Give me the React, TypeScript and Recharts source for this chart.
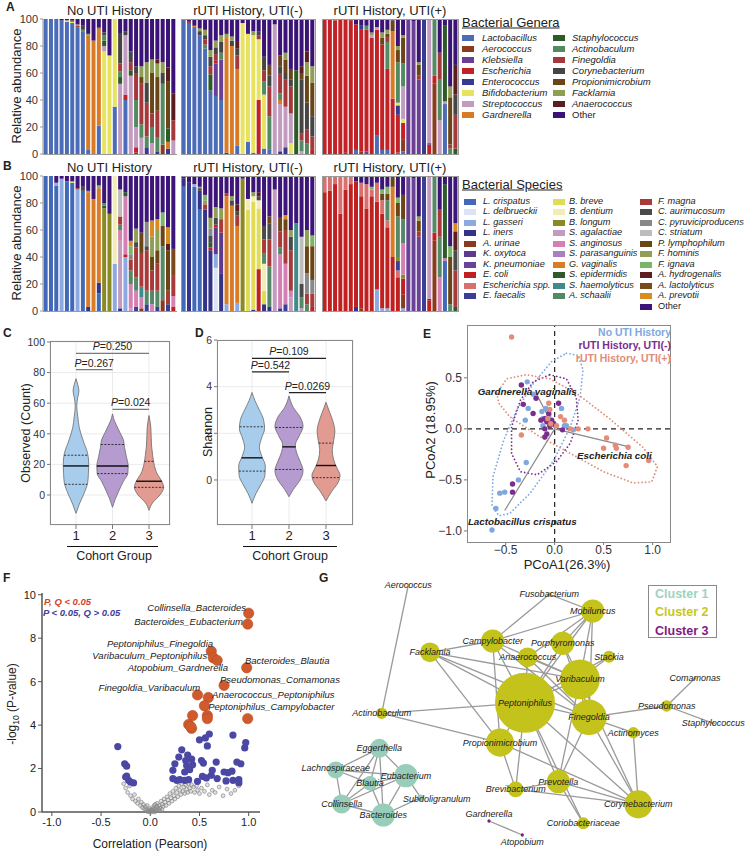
import React from "react";
import { Area, Bar, BarChart, CartesianGrid, ComposedChart, ReferenceLine, Scatter, XAxis, YAxis, ZAxis } from "recharts";

const FONT = '"Liberation Sans", Arial, Helvetica, sans-serif';

// ---------- A: genus composition per sample (bottom -> top: [taxon index, %]) ----------
const genera = [
  "Lactobacillus", "Aerococcus", "Klebsiella", "Escherichia", "Enterococcus", "Bifidobacterium",
  "Streptococcus", "Gardnerella", "Staphylococcus", "Actinobaculum", "Finegoldia", "Corynebacterium",
  "Propionimicrobium", "Facklamia", "Anaerococcus", "Other",
];
const generaColors = [
  "#4B6CB7", "#8C3B1C", "#6C3F97", "#C22126", "#383A8F", "#E8E35F", "#C29BC0", "#D97A27",
  "#2D5A27", "#548A62", "#A3393A", "#454545", "#6A4517", "#8E9F52", "#5A1E1E", "#3B1275",
];

const generaNoUti = [
  [[0, 100]], [[0, 100]], [[0, 100]], [[0, 99], [15, 1]], [[0, 98], [5, 1], [15, 1]],
  [[0, 97], [5, 1], [12, 1], [15, 1]], [[0, 94], [10, 1], [13, 1], [15, 4]], [[0, 91], [9, 1], [11, 3], [15, 5]],
  [[0, 3], [7, 85], [13, 1], [15, 11]], [[7, 84], [15, 16]], [[0, 21], [7, 72], [12, 1], [15, 6]],
  [[5, 76], [6, 4], [8, 4], [9, 4], [11, 2], [15, 10]], [[5, 73], [15, 27]], [[0, 35], [5, 65]],
  [[6, 52], [8, 5], [9, 4], [10, 6], [11, 22], [15, 11]], [[0, 40], [3, 4], [6, 44], [11, 3], [15, 9]],
  [[6, 58], [8, 4], [10, 6], [11, 8], [15, 24]], [[1, 1], [3, 4], [6, 15], [9, 20], [10, 20], [11, 5], [15, 35]],
  [[6, 12], [9, 10], [10, 30], [12, 5], [13, 8], [15, 35]], [[4, 5], [9, 8], [10, 25], [11, 15], [13, 15], [15, 32]],
  [[6, 8], [9, 12], [10, 10], [12, 30], [13, 10], [15, 30]], [[4, 2], [9, 10], [10, 20], [12, 25], [13, 10], [14, 3], [15, 30]],
  [[1, 7], [9, 45], [11, 8], [13, 8], [15, 32]], [[4, 4], [7, 5], [8, 10], [12, 35], [14, 10], [15, 36]],
  [[6, 10], [10, 15], [14, 20], [15, 55]],
];
const generaUtiNeg = [
  [[0, 99], [15, 1]], [[0, 97], [10, 1], [15, 2]], [[0, 94], [7, 1], [15, 5]], [[0, 88], [11, 3], [13, 2], [15, 7]],
  [[0, 78], [9, 3], [10, 4], [11, 3], [13, 4], [15, 8]], [[0, 47], [8, 12], [10, 6], [11, 7], [13, 5], [15, 23]],
  [[0, 43], [2, 24], [3, 2], [10, 5], [11, 5], [13, 5], [15, 16]], [[0, 40], [2, 30], [9, 5], [11, 8], [13, 5], [15, 12]],
  [[4, 1], [7, 85], [13, 3], [15, 11]], [[7, 80], [11, 4], [13, 3], [15, 13]], [[0, 6], [7, 57], [10, 10], [11, 5], [14, 5], [15, 17]],
  [[5, 97], [15, 3]], [[0, 9], [5, 80], [15, 11]], [[0, 1], [5, 87], [13, 3], [15, 9]],
  [[3, 40], [5, 45], [10, 3], [11, 3], [15, 9]], [[0, 4], [5, 40], [9, 10], [10, 8], [11, 10], [15, 28]],
  [[0, 3], [9, 25], [10, 22], [11, 8], [12, 8], [15, 34]], [[6, 96], [15, 4]],
  [[4, 2], [6, 35], [7, 3], [9, 5], [10, 15], [11, 5], [12, 8], [15, 27]], [[4, 5], [6, 30], [10, 20], [11, 5], [12, 10], [13, 5], [15, 25]],
  [[5, 8], [6, 22], [10, 20], [11, 5], [12, 8], [15, 37]], [[8, 62], [15, 38]],
  [[6, 2], [9, 8], [10, 5], [11, 40], [12, 5], [14, 5], [15, 35]], [[9, 8], [10, 10], [11, 20], [12, 20], [13, 10], [14, 8], [15, 24]],
  [[3, 3], [10, 10], [11, 15], [12, 25], [13, 12], [15, 35]],
];
const generaUtiPos = [
  [[3, 100]], [[3, 100]], [[3, 99], [13, 1]], [[3, 100]], [[1, 1], [3, 99]], [[3, 99], [12, 1]],
  [[0, 3], [3, 93], [15, 4]], [[1, 2], [3, 90], [4, 3], [15, 5]], [[2, 2], [3, 90], [9, 3], [15, 5]],
  [[3, 86], [6, 2], [13, 2], [15, 10]], [[0, 14], [3, 78], [6, 2], [15, 6]], [[0, 3], [3, 78], [12, 5], [13, 4], [15, 10]],
  [[0, 3], [3, 60], [9, 20], [10, 3], [12, 3], [13, 3], [15, 8]], [[3, 41], [7, 50], [12, 8], [15, 1]],
  [[0, 1], [3, 28], [4, 7], [5, 2], [9, 30], [12, 9], [13, 3], [15, 20]],
  [[0, 2], [1, 9], [3, 12], [5, 3], [6, 24], [9, 17], [12, 19], [13, 2], [15, 12]],
  [[2, 100]], [[2, 98], [15, 2]], [[2, 55], [10, 3], [12, 8], [13, 2], [15, 32]], [[4, 100]],
  [[3, 7], [4, 1], [6, 92]], [[1, 52], [3, 6], [9, 42]], [[6, 25], [9, 30], [10, 20], [15, 25]],
  [[0, 37], [6, 2], [8, 56], [15, 5]], [[9, 4], [10, 3], [12, 35], [13, 8], [15, 50]],
  [[8, 4], [10, 25], [11, 15], [14, 22], [15, 34]],
];

// ---------- B: species composition ----------
const species = [
  "L. crispatus", "L. delbrueckii", "L. gasseri", "L. iners", "A. urinae", "K. oxytoca", "K. pneumoniae",
  "E. coli", "Escherichia spp.", "E. faecalis", "B. breve", "B. dentium", "B. longum", "S. agalactiae",
  "S. anginosus", "S. parasanguinis", "G. vaginalis", "S. epidermidis", "S. haemolyticus", "A. schaalii",
  "F. magna", "C. aurimucosum", "C. pyruviciproducens", "C. striatum", "P. lymphophilum", "F. hominis",
  "F. ignava", "A. hydrogenalis", "A. lactolyticus", "A. prevotii", "Other",
];
const speciesColors = [
  "#4169B8", "#DCE4F4", "#8CAAE0", "#33338A", "#8B3A1E", "#5E3A8E", "#6A4398", "#C0201F", "#D97070",
  "#3A3E96", "#E0DC55", "#F2EDB5", "#8A8A25", "#C39BBE", "#D580B5", "#A980BE", "#D97B27", "#2F5A2A",
  "#3F8A8A", "#558866", "#A83A3A", "#4A4A4A", "#888888", "#BDBDBD", "#6B4515", "#8FA055", "#7AB56A",
  "#5C1F1F", "#7A4A1A", "#D98A20", "#3D1478",
];

const speciesNoUti = [
  [[0, 100]], [[0, 100]], [[0, 93], [2, 2], [30, 5]], [[2, 98], [30, 2]], [[0, 96], [30, 4]],
  [[0, 95], [10, 1], [30, 4]], [[2, 90], [20, 1], [30, 9]], [[0, 89], [21, 3], [30, 8]],
  [[3, 3], [16, 85], [25, 1], [30, 11]], [[16, 83], [30, 17]], [[0, 13], [3, 8], [16, 70], [26, 2], [30, 7]],
  [[12, 76], [17, 2], [19, 2], [30, 20]], [[12, 72], [30, 28]], [[2, 35], [11, 65]],
  [[3, 2], [13, 50], [14, 8], [19, 4], [20, 6], [23, 20], [30, 10]], [[2, 40], [7, 2], [14, 43], [17, 3], [30, 12]],
  [[13, 2], [14, 18], [19, 10], [20, 8], [22, 4], [26, 6], [29, 4], [30, 48]],
  [[9, 3], [14, 12], [19, 10], [20, 22], [21, 4], [25, 10], [30, 39]],
  [[4, 2], [14, 8], [18, 8], [20, 25], [24, 15], [30, 42]], [[9, 5], [19, 10], [20, 30], [21, 3], [22, 18], [30, 34]],
  [[14, 5], [19, 10], [20, 15], [24, 10], [25, 15], [29, 12], [30, 33]],
  [[9, 3], [19, 12], [20, 20], [24, 10], [25, 15], [29, 8], [30, 32]],
  [[4, 8], [19, 40], [24, 15], [26, 10], [30, 27]], [[9, 5], [20, 10], [24, 30], [27, 5], [29, 12], [30, 38]],
  [[7, 3], [14, 8], [20, 15], [28, 20], [30, 54]],
];
const speciesUtiNeg = [
  [[0, 92], [3, 6], [30, 2]], [[3, 95], [30, 5]], [[0, 92], [2, 2], [30, 6]], [[0, 75], [3, 14], [21, 2], [29, 1], [30, 8]],
  [[3, 75], [20, 4], [25, 3], [26, 4], [30, 14]], [[3, 45], [7, 2], [17, 4], [21, 5], [22, 5], [25, 8], [30, 31]],
  [[1, 32], [2, 10], [5, 20], [7, 2], [21, 5], [25, 8], [30, 23]], [[3, 28], [5, 30], [20, 10], [25, 8], [30, 24]],
  [[2, 5], [16, 80], [20, 2], [30, 13]], [[16, 78], [21, 4], [25, 3], [30, 15]],
  [[2, 6], [16, 57], [20, 8], [21, 3], [27, 5], [30, 21]], [[12, 98], [30, 2]], [[10, 75], [11, 8], [30, 17]],
  [[3, 1], [10, 80], [11, 4], [25, 3], [30, 12]], [[7, 31], [10, 45], [11, 6], [21, 3], [27, 3], [30, 12]],
  [[3, 5], [10, 10], [11, 20], [19, 8], [20, 10], [21, 10], [30, 37]], [[3, 3], [19, 30], [20, 20], [21, 12], [24, 5], [30, 30]],
  [[13, 90], [30, 10]], [[9, 2], [14, 40], [19, 5], [20, 12], [24, 10], [30, 31]],
  [[9, 5], [14, 30], [20, 25], [24, 8], [29, 3], [30, 29]], [[13, 10], [14, 5], [20, 30], [21, 10], [25, 5], [30, 40]],
  [[18, 65], [30, 35]], [[13, 2], [19, 8], [21, 10], [23, 35], [30, 45]],
  [[19, 5], [20, 8], [22, 15], [24, 20], [25, 12], [30, 40]], [[7, 3], [20, 10], [22, 10], [24, 25], [26, 8], [30, 44]],
];
const speciesUtiPos = [
  [[7, 88], [8, 12]], [[7, 89], [8, 11]], [[7, 94], [8, 6]], [[7, 72], [8, 28]], [[7, 90], [8, 10]], [[7, 94], [8, 6]],
  [[3, 3], [7, 93], [30, 4]], [[4, 2], [7, 83], [8, 10], [30, 5]], [[7, 76], [8, 18], [30, 6]],
  [[7, 85], [8, 5], [26, 2], [30, 8]], [[2, 16], [7, 65], [8, 14], [30, 5]], [[2, 2], [7, 70], [8, 10], [24, 5], [26, 3], [30, 10]],
  [[2, 2], [7, 60], [8, 5], [19, 15], [24, 5], [26, 5], [30, 8]], [[7, 40], [16, 52], [24, 8]],
  [[7, 25], [8, 5], [9, 7], [12, 3], [19, 30], [24, 10], [26, 4], [30, 16]],
  [[2, 2], [4, 10], [7, 12], [12, 3], [14, 23], [19, 18], [24, 18], [30, 14]],
  [[6, 100]], [[6, 98], [30, 2]], [[6, 55], [20, 4], [24, 8], [25, 3], [30, 30]], [[9, 100]],
  [[7, 8], [9, 1], [13, 91]], [[4, 52], [7, 6], [19, 42]], [[14, 25], [19, 30], [20, 20], [30, 25]],
  [[0, 37], [14, 2], [17, 55], [30, 6]], [[19, 5], [24, 35], [26, 8], [30, 52]],
  [[17, 3], [20, 27], [21, 15], [27, 14], [29, 6], [30, 35]],
];

const groupTitles = ["No UTI History", "rUTI History, UTI(-)", "rUTI History, UTI(+)"];
const abundanceTicks = [0, 20, 40, 60, 80, 100];

// ---------- C / D: violin outlines ([value, half width]) and quartiles ----------
const observedNoUti = [[-12, 0], [-6, 0.09], [1, 0.22], [8, 0.32], [14, 0.34], [20, 0.35], [27, 0.32], [36, 0.19], [44, 0.09], [51, 0.05], [58, 0.02], [64, 0.05], [68, 0.08], [72, 0.05], [76, 0]];
const observedUtiNeg = [[-8, 0], [-3, 0.07], [3, 0.18], [9, 0.3], [14, 0.42], [19, 0.43], [25, 0.38], [31, 0.33], [36, 0.3], [41, 0.2], [46, 0.1], [50, 0.03], [53, 0]];
const observedUtiPos = [[-10, 0], [-5, 0.1], [0, 0.3], [5, 0.4], [9, 0.35], [14, 0.22], [20, 0.14], [26, 0.1], [32, 0.07], [38, 0.06], [44, 0.05], [48, 0.03], [52, 0]];
const observedMedian = [19, 19, 9];
const observedQ1 = [7, 14, 5];
const observedQ3 = [26, 33, 22];
const observedTests = [
  { from: 1, to: 3, y: 92.6, p: "0.250" },
  { from: 1, to: 2, y: 82, p: "0.267" },
  { from: 2, to: 3, y: 56, p: "0.024" },
];

const shannonNoUti = [[-1, 0], [-0.6, 0.1], [-0.2, 0.24], [0.2, 0.35], [0.6, 0.36], [1.0, 0.27], [1.4, 0.2], [1.8, 0.26], [2.2, 0.34], [2.6, 0.31], [3.0, 0.2], [3.4, 0.08], [3.75, 0]];
const shannonUtiNeg = [[-0.72, 0], [-0.4, 0.12], [0, 0.3], [0.4, 0.38], [0.8, 0.3], [1.2, 0.2], [1.5, 0.17], [1.9, 0.28], [2.3, 0.38], [2.7, 0.3], [3.1, 0.12], [3.6, 0]];
const shannonUtiPos = [[-0.9, 0], [-0.5, 0.15], [-0.1, 0.33], [0.2, 0.38], [0.5, 0.3], [0.9, 0.2], [1.3, 0.17], [1.7, 0.21], [2.1, 0.24], [2.5, 0.19], [2.9, 0.1], [3.33, 0]];
const shannonMedian = [0.95, 1.42, 0.62];
const shannonQ1 = [0.38, 0.45, 0.1];
const shannonQ3 = [2.28, 2.25, 1.58];
const shannonTests = [
  { from: 1, to: 3, y: 5.21, p: "0.109" },
  { from: 1, to: 2, y: 4.63, p: "0.542" },
  { from: 2, to: 3, y: 3.74, p: "0.0269" },
];
const violinFills = ["#A8CDEC", "#B59BD0", "#E29B90"];

// ---------- E: PCoA ----------
const pcoaNoUti = [[-0.28, 0.46], [-0.22, 0.34], [-0.27, 0.2], [-0.3, 0.085], [-0.13, 0.17], [-0.09, 0.2], [-0.06, 0.13], [-0.05, 0.085], [-0.02, 0.05], [0.07, 0.2], [0.1, 0.03], [0.19, -0.01], [-0.29, -0.33], [-0.37, -0.5], [-0.51, -0.62], [-0.56, -0.63], [-0.6, -0.78], [-0.64, -0.99], [-0.12, 0.03], [-0.07, 0.08], [-0.12, 0.1], [0.12, 0.03]];
const pcoaUtiNeg = [[-0.34, 0.43], [-0.19, 0.3], [-0.22, 0.15], [-0.32, 0.24], [-0.1, 0.1], [-0.14, 0.085], [-0.08, 0.07], [-0.01, 0.05], [-0.1, 0], [-0.1, -0.08], [-0.08, -0.05], [0.04, 0.25], [0.08, -0.01], [-0.05, 0.03], [-0.43, -0.54], [-0.43, -0.62], [-0.03, 0.085], [-0.06, 0.15]];
const pcoaUtiPos = [[-0.44, 0.9], [-0.34, -0.06], [-0.06, 0.25], [-0.05, 0.19], [0.06, 0.12], [0.1, 0.085], [0.16, 0], [0.24, 0], [0.34, 0], [0.53, -0.09], [0.62, -0.16], [0.5, -0.19], [0.63, -0.19], [0.75, -0.18], [0.73, -0.36], [0.96, -0.31], [-0.04, 0.05], [-0.07, 0.1], [0.02, 0.03]];
const ellipseNoUti = [[0.12, 0.74], [0.24, 0.72], [0.29, 0.58], [0.26, 0.31], [0.16, 0.02], [-0.01, -0.31], [-0.25, -0.63], [-0.46, -0.83], [-0.57, -0.85], [-0.64, -0.75], [-0.63, -0.47], [-0.52, -0.11], [-0.39, 0.18], [-0.22, 0.44], [-0.03, 0.66]];
const ellipseUtiNeg = [[-0.05, 0.53], [0.12, 0.49], [0.22, 0.31], [0.24, 0.085], [0.16, -0.14], [0.02, -0.32], [-0.18, -0.45], [-0.35, -0.42], [-0.44, -0.24], [-0.44, 0.02], [-0.35, 0.28], [-0.22, 0.46]];
const ellipseUtiPos = [[-0.59, 0.35], [-0.49, 0.49], [-0.29, 0.53], [-0.05, 0.49], [0.22, 0.35], [0.56, 0.1], [0.9, -0.18], [1.05, -0.37], [0.99, -0.52], [0.8, -0.53], [0.5, -0.42], [0.16, -0.24], [-0.18, -0.06], [-0.46, 0.12], [-0.57, 0.25]];
const pcoaLoadings = [
  { name: "Gardnerella vaginalis", x: -0.18, y: 0.33, lx: -0.28, ly: 0.365 },
  { name: "Escherichia coli", x: 0.73, y: -0.17, lx: 0.61, ly: -0.265 },
  { name: "Lactobacillus crispatus", x: -0.51, y: -0.8, lx: -0.33, ly: -0.91 },
];
const pcoaColors = ["#7FA8E0", "#7B2D8E", "#E38C78"];

// ---------- F: correlation volcano ----------
const volcanoSig = [[1.0, 9.15], [0.99, 8.65], [0.62, 7.4], [0.64, 7.1], [0.68, 6.98], [0.98, 6.64], [0.75, 5.83], [0.48, 5.39], [0.59, 5.27], [0.55, 4.89], [0.43, 4.44], [0.58, 4.44], [0.58, 4.3], [0.99, 4.3], [0.39, 4.03], [0.42, 3.85], [0.41, 3.94]];
const volcanoNominal = [[-0.33, 3.01], [-0.26, 2.22], [-0.24, 2.11], [-0.25, 1.61], [-0.24, 1.65], [-0.22, 1.46], [-0.2, 1.38], [-0.17, 1.34], [0.23, 1.92], [0.25, 2.22], [0.29, 2.53], [0.32, 2.86], [0.38, 2.62], [0.36, 2.37], [0.37, 2.14], [0.4, 1.95], [0.42, 2.43], [0.43, 2.17], [0.35, 1.84], [0.27, 1.46], [0.23, 1.54], [0.3, 1.49], [0.35, 1.46], [0.39, 1.49], [0.5, 3.32], [0.56, 3.41], [0.6, 3.59], [0.58, 3.04], [0.52, 2.37], [0.54, 2.25], [0.67, 2.3], [0.63, 1.92], [0.53, 1.64], [0.57, 1.57], [0.62, 1.69], [0.48, 1.41], [0.68, 1.54], [0.75, 1.84], [0.79, 1.81], [0.83, 1.88], [0.84, 3.54], [0.77, 1.43], [0.84, 1.46], [0.9, 1.49], [0.9, 1.34], [0.88, 2.3], [0.92, 2.22], [0.97, 3.2], [0.96, 2.95]];
const volcanoNs = [[-0.27, 1.3], [-0.25, 1.1], [-0.23, 0.9], [-0.21, 1.2], [-0.2, 0.75], [-0.18, 0.6], [-0.16, 0.8], [-0.15, 0.5], [-0.13, 0.4], [-0.12, 0.6], [-0.1, 0.3], [-0.09, 0.45], [-0.08, 0.2], [-0.07, 0.35], [-0.06, 0.15], [-0.05, 0.25], [-0.04, 0.1], [-0.03, 0.3], [-0.02, 0.05], [-0.01, 0.15], [0, 0.02], [0.01, 0.1], [0.02, 0.2], [0.03, 0.05], [0.04, 0.3], [0.05, 0.12], [0.06, 0.22], [0.07, 0.4], [0.08, 0.08], [0.09, 0.3], [0.1, 0.18], [0.11, 0.5], [0.12, 0.35], [0.13, 0.25], [0.14, 0.6], [0.15, 0.45], [0.16, 0.3], [0.17, 0.7], [0.18, 0.55], [0.19, 0.4], [0.2, 0.85], [0.21, 0.65], [0.22, 0.5], [0.23, 0.95], [0.24, 0.75], [0.25, 0.6], [0.26, 1.1], [0.27, 0.9], [0.28, 0.7], [0.29, 1.2], [0.3, 1.0], [0.31, 0.8], [0.32, 1.3], [0.33, 0.95], [0.34, 1.15], [0.35, 0.85], [0.36, 1.25], [0.37, 1.05], [0.38, 0.9], [0.39, 1.3], [0.4, 1.1], [0.41, 0.95], [0.42, 1.25], [0.44, 1.15], [0.45, 0.9], [0.47, 1.2], [0.48, 1.0], [0.5, 0.85], [0.52, 1.1], [0.55, 0.95], [0.58, 1.25], [0.6, 0.8], [0.63, 1.0], [0.66, 0.9], [0.7, 1.15], [0.74, 0.75], [0.78, 1.05], [0.82, 0.85], [0.86, 1.0], [0.9, 1.2], [-0.005, 0], [0.015, 0], [0.03, 0.15], [0.045, 0], [0.06, 0.05], [-0.03, 0.02], [0.08, 0.15], [0.1, 0.05], [0.12, 0.12], [0.05, 0.35], [0.02, 0.08], [-0.015, 0.08], [0.07, 0.25]];
const volcanoLabels = [
  { t: "Collinsella_Bacteroides", x: 0.973, y: 9.41, a: "end" },
  { t: "Bacteroides_Eubacterium", x: 0.942, y: 8.77, a: "end" },
  { t: "Peptoniphilus_Finegoldia", x: 0.638, y: 7.76, a: "end" },
  { t: "Varibaculum_Peptoniphilus", x: 0.578, y: 7.21, a: "end" },
  { t: "Atopobium_Gardnerella", x: 0.79, y: 6.67, a: "end" },
  { t: "Bacteroides_Blautia", x: 0.962, y: 6.99, a: "start" },
  { t: "Pseudomonas_Comamonas", x: 0.709, y: 6.12, a: "start" },
  { t: "Finegoldia_Varibaculum", x: 0.507, y: 5.71, a: "end" },
  { t: "Anaerococcus_Peptoniphilus", x: 0.628, y: 5.39, a: "start" },
  { t: "Peptoniphilus_Campylobacter", x: 0.588, y: 4.84, a: "start" },
];

// ---------- G: co-occurrence network ----------
const networkNodes = [
  { name: "Aerococcus", x: 415, y: 105, w: 0.2, c: 2 },
  { name: "Fusobacterium", x: 838, y: 133, w: 0.5, c: 2 },
  { name: "Mobiluncus", x: 968, y: 183, w: 15, c: 2 },
  { name: "Campylobacter", x: 668, y: 273, w: 15, c: 2 },
  { name: "Porphyromonas", x: 878, y: 280, w: 15, c: 2 },
  { name: "Facklamia", x: 480, y: 307, w: 11, c: 2 },
  { name: "Anaerococcus", x: 773, y: 322, w: 11, c: 2 },
  { name: "Stackia", x: 1017, y: 320, w: 4, c: 2 },
  { name: "Varibaculum", x: 930, y: 388, w: 44, c: 2 },
  { name: "Peptoniphilus", x: 765, y: 458, w: 100, c: 2 },
  { name: "Finegoldia", x: 957, y: 502, w: 35, c: 2 },
  { name: "Comamonas", x: 1275, y: 385, w: 0.2, c: 2 },
  { name: "Pseudomonas", x: 1190, y: 468, w: 3.6, c: 2 },
  { name: "Staphylococcus", x: 1330, y: 520, w: 0.2, c: 2 },
  { name: "Actinobaculum", x: 335, y: 490, w: 3.6, c: 2 },
  { name: "Actinomyces", x: 1090, y: 548, w: 3.6, c: 2 },
  { name: "Propionimicrobium", x: 690, y: 578, w: 22, c: 2 },
  { name: "Prevotella", x: 865, y: 695, w: 15, c: 2 },
  { name: "Brevibacterium", x: 737, y: 718, w: 7, c: 2 },
  { name: "Corynebacterium", x: 1105, y: 763, w: 22, c: 2 },
  { name: "Coriobacteriaceae", x: 940, y: 820, w: 4, c: 2 },
  { name: "Eggerthella", x: 328, y: 595, w: 10, c: 1 },
  { name: "Lachnospiraceae", x: 197, y: 660, w: 8, c: 1 },
  { name: "Eubacterium", x: 408, y: 677, w: 15, c: 1 },
  { name: "Blautia", x: 300, y: 700, w: 6, c: 1 },
  { name: "Subdoligranulum", x: 452, y: 743, w: 1.2, c: 1 },
  { name: "Collinsella", x: 215, y: 762, w: 10, c: 1 },
  { name: "Bacteroides", x: 340, y: 795, w: 15, c: 1 },
  { name: "Gardnerella", x: 657, y: 813, w: 0.3, c: 3 },
  { name: "Atopobium", x: 757, y: 855, w: 0.3, c: 3 },
];
const networkEdges = [
  ["Aerococcus", "Actinobaculum"], ["Actinobaculum", "Peptoniphilus"], ["Actinobaculum", "Propionimicrobium"],
  ["Fusobacterium", "Campylobacter"], ["Fusobacterium", "Mobiluncus"], ["Mobiluncus", "Campylobacter"],
  ["Mobiluncus", "Varibaculum"], ["Mobiluncus", "Anaerococcus"], ["Mobiluncus", "Porphyromonas"],
  ["Mobiluncus", "Finegoldia"], ["Mobiluncus", "Peptoniphilus"], ["Campylobacter", "Facklamia"],
  ["Campylobacter", "Peptoniphilus"], ["Campylobacter", "Propionimicrobium"], ["Campylobacter", "Varibaculum"],
  ["Campylobacter", "Finegoldia"], ["Facklamia", "Varibaculum"], ["Facklamia", "Peptoniphilus"],
  ["Facklamia", "Finegoldia"], ["Facklamia", "Propionimicrobium"], ["Porphyromonas", "Peptoniphilus"],
  ["Porphyromonas", "Varibaculum"], ["Porphyromonas", "Finegoldia"], ["Anaerococcus", "Peptoniphilus"],
  ["Anaerococcus", "Varibaculum"], ["Anaerococcus", "Finegoldia"], ["Stackia", "Varibaculum"],
  ["Stackia", "Peptoniphilus"], ["Varibaculum", "Peptoniphilus"], ["Varibaculum", "Finegoldia"],
  ["Varibaculum", "Prevotella"], ["Varibaculum", "Corynebacterium"], ["Peptoniphilus", "Finegoldia"],
  ["Peptoniphilus", "Propionimicrobium"], ["Peptoniphilus", "Prevotella"], ["Peptoniphilus", "Brevibacterium"],
  ["Peptoniphilus", "Corynebacterium"], ["Peptoniphilus", "Coriobacteriaceae"], ["Finegoldia", "Pseudomonas"],
  ["Finegoldia", "Actinomyces"], ["Finegoldia", "Corynebacterium"], ["Finegoldia", "Prevotella"],
  ["Pseudomonas", "Comamonas"], ["Pseudomonas", "Staphylococcus"], ["Actinomyces", "Corynebacterium"],
  ["Propionimicrobium", "Brevibacterium"], ["Propionimicrobium", "Corynebacterium"], ["Prevotella", "Brevibacterium"],
  ["Prevotella", "Corynebacterium"], ["Prevotella", "Coriobacteriaceae"], ["Brevibacterium", "Corynebacterium"],
  ["Gardnerella", "Atopobium"],
  ["Eggerthella", "Lachnospiraceae"], ["Eggerthella", "Eubacterium"], ["Eggerthella", "Blautia"],
  ["Eggerthella", "Bacteroides"], ["Eggerthella", "Collinsella"], ["Lachnospiraceae", "Eubacterium"],
  ["Lachnospiraceae", "Collinsella"], ["Lachnospiraceae", "Blautia"], ["Eubacterium", "Blautia"],
  ["Eubacterium", "Collinsella"], ["Eubacterium", "Bacteroides"], ["Eubacterium", "Subdoligranulum"],
  ["Blautia", "Bacteroides"], ["Blautia", "Collinsella"], ["Collinsella", "Bacteroides"], ["Bacteroides", "Subdoligranulum"],
];
const clusterNames = ["Cluster 1", "Cluster 2", "Cluster 3"];
const clusterColors = ["#97CDB9", "#C4C31B", "#7E1E80"];
const clusterTextColors = ["#9ED3C1", "#C8C71E", "#821A84"];

// ---------- helpers ----------
function toRows(samples: number[][][], n: number) {
  return samples.map((segs, i) => {
    const row: Record<string, number> = { id: i };
    for (let k = 0; k < n; k++) row["t" + k] = 0;
    const total = segs.reduce((s, seg) => s + seg[1], 0);
    segs.forEach(([k, v]) => {
      row["t" + k] += (v * 100) / total;
    });
    return row;
  });
}

function widthAt(profile: number[][], y: number) {
  for (let i = 1; i < profile.length; i++) {
    const [y0, w0] = profile[i - 1];
    const [y1, w1] = profile[i];
    if (y >= y0 && y <= y1) return w0 + ((w1 - w0) * (y - y0)) / (y1 - y0);
  }
  return 0;
}

const pts = (arr: number[][]) => arr.map(([x, y]) => ({ x, y }));
const Blank = () => <g />;
const dot = (r: number, fill: string, stroke = "none", sw = 0) => (p: any) => (
  <circle cx={p.cx} cy={p.cy} r={r} fill={fill} stroke={stroke} strokeWidth={sw} />
);

function seg(key: string, data: { x: number; y: number }[], stroke: string, width = 1, dash?: string, cap?: string) {
  return (
    <Scatter
      key={key}
      data={data}
      line={{ stroke, strokeWidth: width, strokeDasharray: dash, strokeLinecap: cap as any }}
      shape={Blank}
      isAnimationActive={false}
    />
  );
}

function Txt({ x, y, size = 12, anchor = "middle", bold, italic, color = "#222", rotate, underline, children }: any) {
  const tx = anchor === "middle" ? "-50%" : anchor === "end" ? "-100%" : "0";
  return (
    <div
      style={{
        position: "absolute",
        left: x,
        top: y,
        transform: `translate(${tx}, -50%)${rotate ? " rotate(-90deg)" : ""}`,
        fontSize: size,
        lineHeight: 1,
        fontWeight: bold ? 700 : 400,
        fontStyle: italic ? "italic" : "normal",
        textDecoration: underline ? "underline" : "none",
        color,
        whiteSpace: "nowrap",
      }}
    >
      {children}
    </div>
  );
}

// ---------- A / B ----------
function StackGroup({ samples, colors, plotLeft, plotWidth, top, axis, title }: any) {
  const rows = toRows(samples, colors.length);
  const axisW = axis ? 43 : 0;
  return (
    <>
      <div style={{ position: "absolute", left: plotLeft - axisW, top }}>
        <BarChart
          width={plotWidth + axisW}
          height={166}
          data={rows}
          margin={{ top: 19, right: 0, bottom: 12, left: axis ? 13 : 0 }}
          barCategoryGap="12%"
        >
          <XAxis dataKey="id" hide />
          <YAxis
            hide={!axis}
            width={30}
            domain={[0, 100]}
            allowDataOverflow
            ticks={abundanceTicks}
            interval={0}
            tickSize={3}
            tick={{ fontSize: 11, fill: "#333" }}
            tickLine={{ stroke: "#999" }}
            axisLine={{ stroke: "#999" }}
          />
          {colors.map((c: string, k: number) => (
            <Bar key={k} dataKey={"t" + k} stackId="s" fill={c} isAnimationActive={false} />
          ))}
        </BarChart>
      </div>
      <div
        style={{
          position: "absolute",
          left: plotLeft - 0.5,
          top: top + 18.5,
          width: plotWidth + 1,
          height: 136,
          boxSizing: "border-box",
          borderTop: axis ? "none" : "1px solid #9a9a9a",
          borderRight: axis ? "none" : "1px solid #9a9a9a",
          borderLeft: axis ? "none" : "1px solid #9a9a9a",
          borderBottom: "1px solid #9a9a9a",
          pointerEvents: "none",
        }}
      />
      <Txt x={plotLeft + plotWidth / 2} y={top + 10} size={13}>
        {title}
      </Txt>
    </>
  );
}

const groupPlots = [
  { left: 43, width: 133 },
  { left: 181, width: 134 },
  { left: 322, width: 136 },
];

function StackRow({ top, groups, colors }: any) {
  return (
    <>
      {groups.map((g: any, i: number) => (
        <StackGroup
          key={i}
          samples={g}
          colors={colors}
          plotLeft={groupPlots[i].left}
          plotWidth={groupPlots[i].width}
          top={top}
          axis={i === 0}
          title={groupTitles[i]}
        />
      ))}
      <Txt x={16} y={top + 86} size={13} rotate>
        Relative abundance
      </Txt>
    </>
  );
}

function TaxaLegend({ title, names, colors, titleY, firstRow, rowH, columns, size }: any) {
  return (
    <>
      <Txt x={462} y={titleY} size={13} anchor="start" underline>
        {title}
      </Txt>
      {columns.map((col: any, ci: number) =>
        names.slice(col.from, col.to).map((n: string, r: number) => {
          const idx = col.from + r;
          const y = firstRow + r * rowH;
          return (
            <React.Fragment key={ci + "-" + r}>
              <div style={{ position: "absolute", left: col.sx, top: y - 3, width: 12, height: 6, background: colors[idx] }} />
              <Txt x={col.tx} y={y} size={size} anchor="start" italic={n !== "Other"}>
                {n}
              </Txt>
            </React.Fragment>
          );
        })
      )}
    </>
  );
}

// ---------- C / D ----------
function ViolinPanel({ left, top, width, margin, yWidth, xDomain, yDomain, yTicks, profiles, medians, q1, q3, tests, testColor, tickSize }: any) {
  const groups = [1, 2, 3];
  const plotX = margin.left + yWidth;
  const plotW = width - plotX - margin.right;
  const plotH = 220 - margin.top - margin.bottom - 21;
  const labelShape = (p: any) => (
    <text x={p.cx} y={p.cy} dy={-3} textAnchor="middle" fontSize={10.5} fill="#222">
      <tspan fontStyle="italic">P</tspan>={p.payload.p}
    </text>
  );
  return (
    <div style={{ position: "absolute", left, top }}>
      <ComposedChart layout="vertical" width={width} height={220} margin={margin}>
        <CartesianGrid stroke="#e6e6e6" strokeWidth={0.8} />
        <XAxis
          type="number"
          dataKey="x"
          domain={xDomain}
          ticks={[1, 2, 3]}
          interval={0}
          allowDataOverflow
          height={21}
          tickSize={4}
          tick={{ fontSize: 13, fill: "#222" }}
          tickLine={{ stroke: "#777" }}
          axisLine={false}
        />
        <YAxis
          type="number"
          dataKey="y"
          domain={yDomain}
          ticks={yTicks}
          interval={0}
          reversed
          allowDataOverflow
          width={yWidth}
          tickSize={3}
          tick={{ fontSize: tickSize, fill: "#333" }}
          tickLine={{ stroke: "#777" }}
          axisLine={false}
        />
        {profiles.map((p: number[][], i: number) => (
          <Area
            key={"v" + i}
            data={p.map(([y, hw]) => ({ y, band: [groups[i] - hw, groups[i] + hw] }))}
            dataKey="band"
            type="monotone"
            fill={violinFills[i]}
            fillOpacity={1}
            stroke="#6a6a6a"
            strokeWidth={0.8}
            isAnimationActive={false}
          />
        ))}
        {profiles.map((p: number[][], i: number) => {
          const g = groups[i];
          const line = (y: number) => {
            const hw = widthAt(p, y);
            return [{ x: g - hw, y }, { x: g + hw, y }];
          };
          return [
            seg("q1" + i, line(q1[i]), "#222", 0.9, "2 1.5"),
            seg("q3" + i, line(q3[i]), "#222", 0.9, "2 1.5"),
            seg("md" + i, line(medians[i]), "#111", 1.4),
          ];
        })}
        {tests.map((t: any, i: number) => seg("t" + i, [{ x: t.from, y: t.y }, { x: t.to, y: t.y }], testColor, 1.3))}
        <Scatter
          data={tests.map((t: any) => ({ x: (t.from + t.to) / 2, y: t.y, p: t.p }))}
          shape={labelShape}
          isAnimationActive={false}
        />
      </ComposedChart>
      <div
        style={{
          position: "absolute",
          left: plotX,
          top: margin.top,
          width: plotW,
          height: plotH,
          boxSizing: "border-box",
          border: "1px solid #8a8a8a",
          pointerEvents: "none",
        }}
      />
    </div>
  );
}

// ---------- E ----------
function PcoaPanel() {
  const minus = (v: number) => v.toFixed(1).replace("-", "\u2212");
  const series = [pcoaNoUti, pcoaUtiNeg, pcoaUtiPos];
  const ellipses = [ellipseNoUti, ellipseUtiNeg, ellipseUtiPos];
  const loadLabel = (p: any) => (
    <text x={p.cx} y={p.cy} textAnchor="middle" dominantBaseline="central" fontSize={9.8} fontWeight={700} fontStyle="italic" fill="#222">
      {p.payload.name}
    </text>
  );
  return (
    <div style={{ position: "absolute", left: 415, top: 320 }}>
      <ComposedChart width={262} height={250} margin={{ top: 5, right: 6, bottom: 2, left: 7 }}>
        <XAxis
          type="number"
          dataKey="x"
          domain={[-0.895, 1.188]}
          ticks={[-0.5, 0, 0.5, 1]}
          interval={0}
          height={25}
          tickSize={2}
          tickMargin={0}
          tickFormatter={minus}
          tick={{ fontSize: 12, fill: "#333" }}
          tickLine={{ stroke: "#777" }}
          axisLine={false}
        />
        <YAxis
          type="number"
          dataKey="y"
          domain={[-1.118, 1.017]}
          ticks={[-1, -0.5, 0, 0.5]}
          interval={0}
          width={45}
          tickSize={3}
          tickFormatter={minus}
          tick={{ fontSize: 12, fill: "#333" }}
          tickLine={{ stroke: "#777" }}
          axisLine={false}
        />
        <ReferenceLine x={0} stroke="#222" strokeDasharray="5 4" strokeWidth={1.2} />
        <ReferenceLine y={0} stroke="#222" strokeDasharray="5 4" strokeWidth={1.2} />
        {ellipses.map((e, i) => seg("el" + i, pts([...e, e[0]]), pcoaColors[i], 1.8, "0.01 3.6", "round"))}
        {pcoaLoadings.map((l, i) => seg("ld" + i, [{ x: 0, y: 0 }, { x: l.x, y: l.y }], "#8a8a8a", 1.2))}
        {series.map((s, i) => (
          <Scatter key={"pc" + i} data={pts(s)} shape={dot(2.7, pcoaColors[i])} isAnimationActive={false} />
        ))}
        <Scatter
          data={pcoaLoadings.map((l) => ({ x: l.lx, y: l.ly, name: l.name }))}
          shape={loadLabel}
          isAnimationActive={false}
        />
      </ComposedChart>
      <div
        style={{
          position: "absolute",
          left: 52,
          top: 5,
          width: 204,
          height: 218,
          boxSizing: "border-box",
          border: "1.5px solid #8a8a8a",
          pointerEvents: "none",
        }}
      />
    </div>
  );
}

// ---------- F ----------
function VolcanoPanel() {
  const labelShape = (p: any) => (
    <text x={p.cx} y={p.cy} textAnchor={p.payload.a} dominantBaseline="central" fontSize={9.5} fontStyle="italic" fill="#222">
      {p.payload.t}
    </text>
  );
  return (
    <div style={{ position: "absolute", left: 0, top: 585 }}>
      <ComposedChart width={350} height={265} margin={{ top: 8, right: 90, bottom: 18, left: 12 }}>
        <XAxis
          type="number"
          dataKey="x"
          domain={[-1.1, 1.115]}
          ticks={[-1, -0.5, 0, 0.5, 1]}
          interval={0}
          height={20}
          tickSize={4}
          tickFormatter={(v: number) => v.toFixed(1)}
          tick={{ fontSize: 11, fill: "#222" }}
          tickLine={{ stroke: "#555" }}
          axisLine={{ stroke: "#555", strokeWidth: 1.5 }}
        />
        <YAxis
          type="number"
          dataKey="y"
          domain={[0, 10.08]}
          ticks={[0, 2, 4, 6, 8, 10]}
          interval={0}
          width={30}
          tickSize={4}
          tick={{ fontSize: 11, fill: "#222" }}
          tickLine={{ stroke: "#555" }}
          axisLine={{ stroke: "#555", strokeWidth: 1.5 }}
        />
        <Scatter data={pts(volcanoNs)} shape={dot(1.9, "rgba(140,140,140,0.25)", "#8a8a8a", 0.7)} isAnimationActive={false} />
        <Scatter data={pts(volcanoNominal)} shape={dot(3.6, "#4A48A4")} isAnimationActive={false} />
        <Scatter data={pts(volcanoSig)} shape={dot(5.2, "#CF5A2C", "#B8461E", 0.5)} isAnimationActive={false} />
        <Scatter data={volcanoLabels} shape={labelShape} isAnimationActive={false} />
      </ComposedChart>
    </div>
  );
}

// ---------- G ----------
const nodeLabelShift: Record<string, [number, number]> = {
  Gardnerella: [0, -7.5],
  Atopobium: [0, 7],
  Subdoligranulum: [16, 1.5],
  Lachnospiraceae: [0, -2],
};

function NetworkPanel() {
  const byName: Record<string, any> = {};
  networkNodes.forEach((n) => (byName[n.name] = n));
  const labelShape = (p: any) => {
    const [dx, dy] = nodeLabelShift[p.payload.name] || [0, 0];
    return (
      <text x={p.cx + dx} y={p.cy + dy} textAnchor="middle" dominantBaseline="central" fontSize={9} fontStyle="italic" fill="#222">
        {p.payload.name}
      </text>
    );
  };
  return (
    <div style={{ position: "absolute", left: 270, top: 550 }}>
      <ComposedChart width={478} height={300} margin={{ top: 0, right: 0, bottom: 0, left: 0 }}>
        <XAxis type="number" dataKey="x" domain={[0, 1434]} hide />
        <YAxis type="number" dataKey="y" domain={[0, 900]} reversed hide />
        <ZAxis type="number" dataKey="w" domain={[0, 100]} range={[0, 2827]} />
        {networkEdges.map(([a, b], i) =>
          seg("e" + i, [{ x: byName[a].x, y: byName[a].y }, { x: byName[b].x, y: byName[b].y }], "#9a9a9a", 1.3)
        )}
        {[1, 2, 3].map((c) => (
          <Scatter
            key={"c" + c}
            data={networkNodes.filter((n) => n.c === c)}
            fill={clusterColors[c - 1]}
            isAnimationActive={false}
          />
        ))}
        <Scatter data={networkNodes.map((n) => ({ x: n.x, y: n.y, name: n.name }))} shape={labelShape} isAnimationActive={false} />
      </ComposedChart>
    </div>
  );
}

export default function App() {
  return (
    <div
      style={{
        position: "absolute",
        left: 0,
        top: 0,
        width: 748,
        height: 853,
        background: "#fff",
        fontFamily: FONT,
        color: "#222",
        overflow: "hidden",
      }}
    >
      {/* A */}
      <StackRow top={0} groups={[generaNoUti, generaUtiNeg, generaUtiPos]} colors={generaColors} />
      <TaxaLegend
        title="Bacterial Genera"
        names={genera}
        colors={generaColors}
        titleY={22}
        firstRow={38.3}
        rowH={10.9}
        size={9.5}
        columns={[
          { from: 0, to: 8, sx: 462, tx: 482 },
          { from: 8, to: 16, sx: 553, tx: 572 },
        ]}
      />
      {/* B */}
      <StackRow top={157} groups={[speciesNoUti, speciesUtiNeg, speciesUtiPos]} colors={speciesColors} />
      <TaxaLegend
        title="Bacterial Species"
        names={species}
        colors={speciesColors}
        titleY={184}
        firstRow={201.7}
        rowH={10.5}
        size={9.2}
        columns={[
          { from: 0, to: 10, sx: 464, tx: 483 },
          { from: 10, to: 20, sx: 553, tx: 569 },
          { from: 20, to: 31, sx: 640, tx: 658 },
        ]}
      />

      {/* C */}
      <ViolinPanel
        left={0}
        top={330}
        width={175}
        margin={{ top: 11, right: 5, bottom: 4, left: 14 }}
        yWidth={36}
        xDomain={[0.288, 3.575]}
        yDomain={[-19.6, 100.65]}
        yTicks={[0, 20, 40, 60, 80, 100]}
        profiles={[observedNoUti, observedUtiNeg, observedUtiPos]}
        medians={observedMedian}
        q1={observedQ1}
        q3={observedQ3}
        tests={observedTests}
        testColor="#7a7a7a"
        tickSize={10.5}
      />
      <Txt x={26} y={433} size={12.5} rotate>
        Observed (Count)
      </Txt>
      <div style={{ position: "absolute", left: 67, top: 545.5, width: 91, height: 1.5, background: "#111" }} />
      <Txt x={114} y={556} size={12.5}>
        Cohort Group
      </Txt>

      {/* D */}
      <ViolinPanel
        left={170}
        top={330}
        width={188}
        margin={{ top: 10, right: 5, bottom: 4, left: 17 }}
        yWidth={30}
        xDomain={[0.054, 3.73]}
        yDomain={[-1.93, 6.0]}
        yTicks={[0, 2, 4, 6]}
        profiles={[shannonNoUti, shannonUtiNeg, shannonUtiPos]}
        medians={shannonMedian}
        q1={shannonQ1}
        q3={shannonQ3}
        tests={shannonTests}
        testColor="#222"
        tickSize={10.5}
      />
      <Txt x={208} y={432} size={12.5} rotate>
        Shannon
      </Txt>
      <div style={{ position: "absolute", left: 243, top: 545.5, width: 94, height: 1.5, background: "#111" }} />
      <Txt x={290} y={556} size={12.5}>
        Cohort Group
      </Txt>

      {/* E */}
      <PcoaPanel />
      <Txt x={430} y={430} size={13} rotate>
        PCoA2 (18.95%)
      </Txt>
      <Txt x={567} y={564} size={13}>
        PCoA1(26.3%)
      </Txt>
      {["No UTI History", "rUTI History, UTI(-)", "rUTI History, UTI(+)"].map((t, i) => (
        <Txt key={t} x={671} y={331.5 + i * 13} size={10.5} anchor="end" bold color={pcoaColors[i]}>
          {t}
        </Txt>
      ))}

      {/* F */}
      <VolcanoPanel />
      <Txt x={12.5} y={704} size={12} rotate>
        -log<span style={{ fontSize: 8.5, verticalAlign: "sub" }}>10</span> (P-value)
      </Txt>
      <Txt x={150} y={844} size={12}>
        Correlation (Pearson)
      </Txt>
      <Txt x={44} y={601.5} size={9.5} anchor="start" bold italic color="#D0452A">
        P, Q &lt; 0.05
      </Txt>
      <Txt x={43} y={613} size={9.5} anchor="start" bold italic color="#4040A0">
        P &lt; 0.05, Q &gt; 0.05
      </Txt>

      {/* G */}
      <NetworkPanel />
      <div
        style={{
          position: "absolute",
          left: 648,
          top: 585,
          width: 69,
          height: 53,
          boxSizing: "border-box",
          border: "1px solid #8a8a8a",
        }}
      />
      {clusterNames.map((c, i) => (
        <Txt key={c} x={655} y={594 + i * 18.3} size={12.5} anchor="start" bold color={clusterTextColors[i]}>
          {c}
        </Txt>
      ))}

      {/* panel letters */}
      <Txt x={6} y={7} size={12} bold anchor="start">A</Txt>
      <Txt x={3} y={166} size={12} bold anchor="start">B</Txt>
      <Txt x={3} y={333} size={12} bold anchor="start">C</Txt>
      <Txt x={195} y={333} size={12} bold anchor="start">D</Txt>
      <Txt x={423} y={334} size={12} bold anchor="start">E</Txt>
      <Txt x={3} y={578} size={12} bold anchor="start">F</Txt>
      <Txt x={319} y={578} size={12} bold anchor="start">G</Txt>
    </div>
  );
}
